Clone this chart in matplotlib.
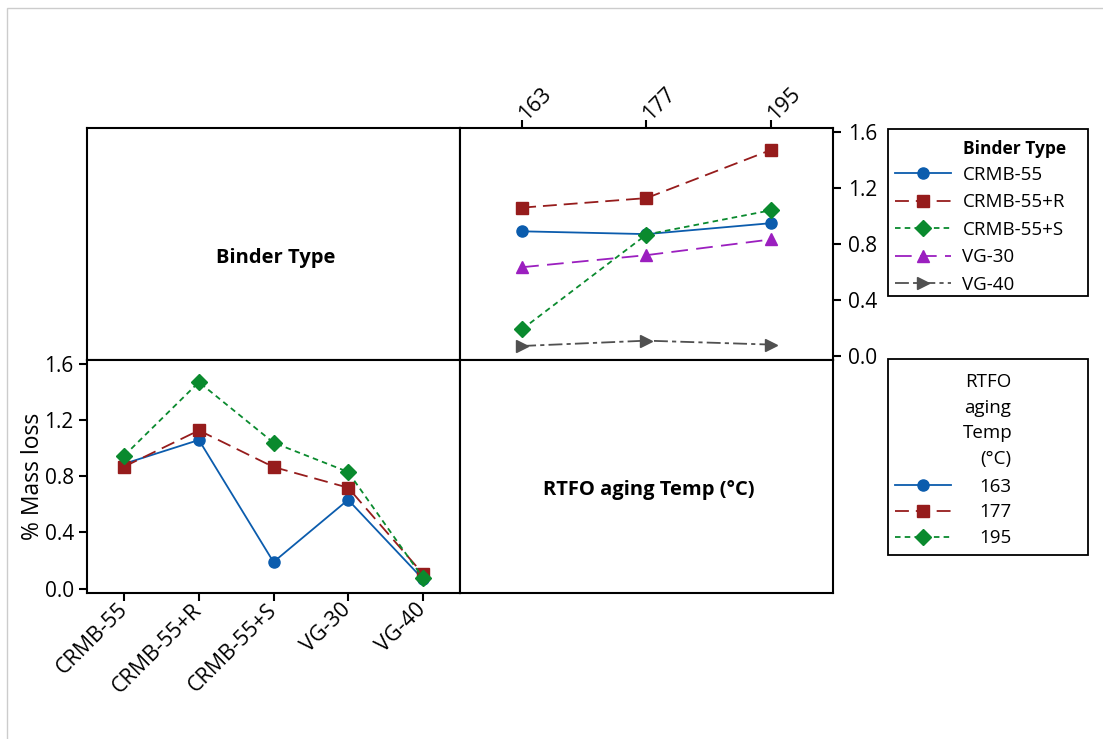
import matplotlib
matplotlib.use("Agg")
import matplotlib.pyplot as plt
from matplotlib.patches import Rectangle
import numpy as np

plt.rcParams['font.family'] = ['Open Sans', 'DejaVu Sans']
plt.rcParams['lines.scale_dashes'] = False

# ---------------- data ----------------
binders = ["CRMB-55", "CRMB-55+R", "CRMB-55+S", "VG-30", "VG-40"]
temps = ["163", "177", "195"]
# % mass loss, rows = binder type, columns = RTFO aging temp
crmb55 = [0.888, 0.868, 0.946]
crmb55_r = [1.057, 1.125, 1.468]
crmb55_s = [0.190, 0.865, 1.038]
vg30 = [0.632, 0.718, 0.830]
vg40 = [0.070, 0.108, 0.080]
mass = np.array([crmb55, crmb55_r, crmb55_s, vg30, vg40])

yticks = [0.0, 0.4, 0.8, 1.2, 1.6]

# styles
b_colors = ["#0B5CAD", "#961C1C", "#0A8A2E", "#9B1FBF", "#505050"]
b_markers = ["o", "s", "D", "^", ">"]
b_msize = [8, 8, 8, 9, 9]
b_dashes = [None, (10, 5), (4, 3), (12, 6), (10, 3, 3, 3)]

W, H = 1103, 739
fig = plt.figure(figsize=(W / 100, H / 100), dpi=100)


def add(x0, y0, x1, y1):
    ax = fig.add_axes([x0 / W, 1 - y1 / H, (x1 - x0) / W, (y1 - y0) / H])
    for s in ax.spines.values():
        s.set_linewidth(1.5)
        s.set_color("black")
    return ax


# gray outer frame
fig.patches.append(Rectangle((7 / W, -0.05), 1.2, 1 - 8 / H + 0.05, transform=fig.transFigure,
                             fill=False, edgecolor="#cccccc", linewidth=1.0))

ax_tl = add(87, 128, 460, 360)
ax_tr = add(460, 128, 833, 360)
ax_bl = add(87, 360, 460, 593)
ax_br = add(460, 360, 833, 593)

ylim = (-0.03, 1.625)

for ax in (ax_tl, ax_br):
    ax.set_xticks([])
    ax.set_yticks([])
ax_tl.text(0.505, 0.44, "Binder Type", transform=ax_tl.transAxes, ha="center", va="center",
           fontsize=14.5, fontweight="bold")
ax_br.text(0.505, 0.44, "RTFO aging Temp (°C)", transform=ax_br.transAxes, ha="center", va="center",
           fontsize=14.5, fontweight="bold")

# top-right: x = temp, lines per binder
xt = np.arange(len(temps))
tr_lines = []
for i, b in enumerate(binders):
    kw = dict(color=b_colors[i], marker=b_markers[i], markersize=b_msize[i], linewidth=1.3,
              label=b)
    ln, = ax_tr.plot(xt, mass[i], **kw)
    if b_dashes[i] is not None:
        ln.set_dashes(b_dashes[i])
    tr_lines.append(ln)
ax_tr.set_xlim(-0.5, 2.5)
ax_tr.set_ylim(*ylim)
ax_tr.set_xticks(xt)
ax_tr.set_xticklabels(temps)
ax_tr.set_yticks(yticks)
ax_tr.set_yticklabels([f"{v:.1f}" for v in yticks])
ax_tr.tick_params(axis="x", top=True, labeltop=True, bottom=False, labelbottom=False,
                  direction="out", length=6, width=1.5, labelsize=15.5, pad=2)
ax_tr.tick_params(axis="y", right=True, labelright=True, left=False, labelleft=False,
                  direction="out", length=6, width=1.5, labelsize=15, pad=5)
for lab in ax_tr.get_xticklabels():
    lab.set_rotation(45)
    lab.set_ha("left")
    lab.set_va("center")
    lab.set_rotation_mode("anchor")

# bottom-left: x = binder, lines per temp
xb = np.arange(len(binders))
bl_lines = []
for j, t in enumerate(temps):
    ln, = ax_bl.plot(xb, mass[:, j], color=b_colors[j], marker=b_markers[j],
                     markersize=b_msize[j], linewidth=1.3, label=t)
    if b_dashes[j] is not None:
        ln.set_dashes(b_dashes[j])
    bl_lines.append(ln)
ax_bl.set_xlim(-0.5, 4.5)
ax_bl.set_ylim(*ylim)
ax_bl.set_xticks(xb)
ax_bl.set_xticklabels(binders)
ax_bl.set_yticks(yticks)
ax_bl.set_yticklabels([f"{v:.1f}" for v in yticks])
ax_bl.tick_params(axis="y", direction="out", length=6, width=1.5, labelsize=15)
ax_bl.tick_params(axis="x", direction="out", length=6, width=1.5, labelsize=15.5, pad=4)
for lab in ax_bl.get_xticklabels():
    lab.set_rotation(45)
    lab.set_ha("right")
    lab.set_va("center")
    lab.set_rotation_mode("anchor")
ax_bl.set_ylabel("% Mass loss", fontsize=16.5, labelpad=0)

# legends
fig.patches.append(Rectangle((888 / W, 1 - 296 / H), 200 / W, 167 / H, transform=fig.transFigure,
                             fill=False, edgecolor="black", linewidth=1.3))
fig.patches.append(Rectangle((888 / W, 1 - 555 / H), 200 / W, 196 / H, transform=fig.transFigure,
                             fill=False, edgecolor="black", linewidth=1.3))
fig.text(963 / W, 1 - 149 / H, "Binder Type", ha="left", va="center", fontsize=12.5,
         fontweight="bold")
fig.legend(handles=tr_lines, labels=binders, loc="upper left", bbox_to_anchor=(895 / W, 1 - 166 / H),
           frameon=False, borderpad=0, borderaxespad=0, handlelength=3.0, handletextpad=0.6,
           labelspacing=0.5, fontsize=13.5, numpoints=1)
for k, s in enumerate(["RTFO", "aging", "Temp", "(°C)"]):
    fig.text((996 if k == 3 else 988) / W, 1 - (382 + 25.7 * k) / H, s, ha="center", va="center",
             fontsize=13.5)
fig.legend(handles=bl_lines, labels=temps, loc="upper left", bbox_to_anchor=(895 / W, 1 - 477.5 / H),
           frameon=False, borderpad=0, borderaxespad=0, handlelength=3.0, handletextpad=1.5,
           labelspacing=0.42, fontsize=13.5, numpoints=1)

fig.savefig("out.png", dpi=100)
